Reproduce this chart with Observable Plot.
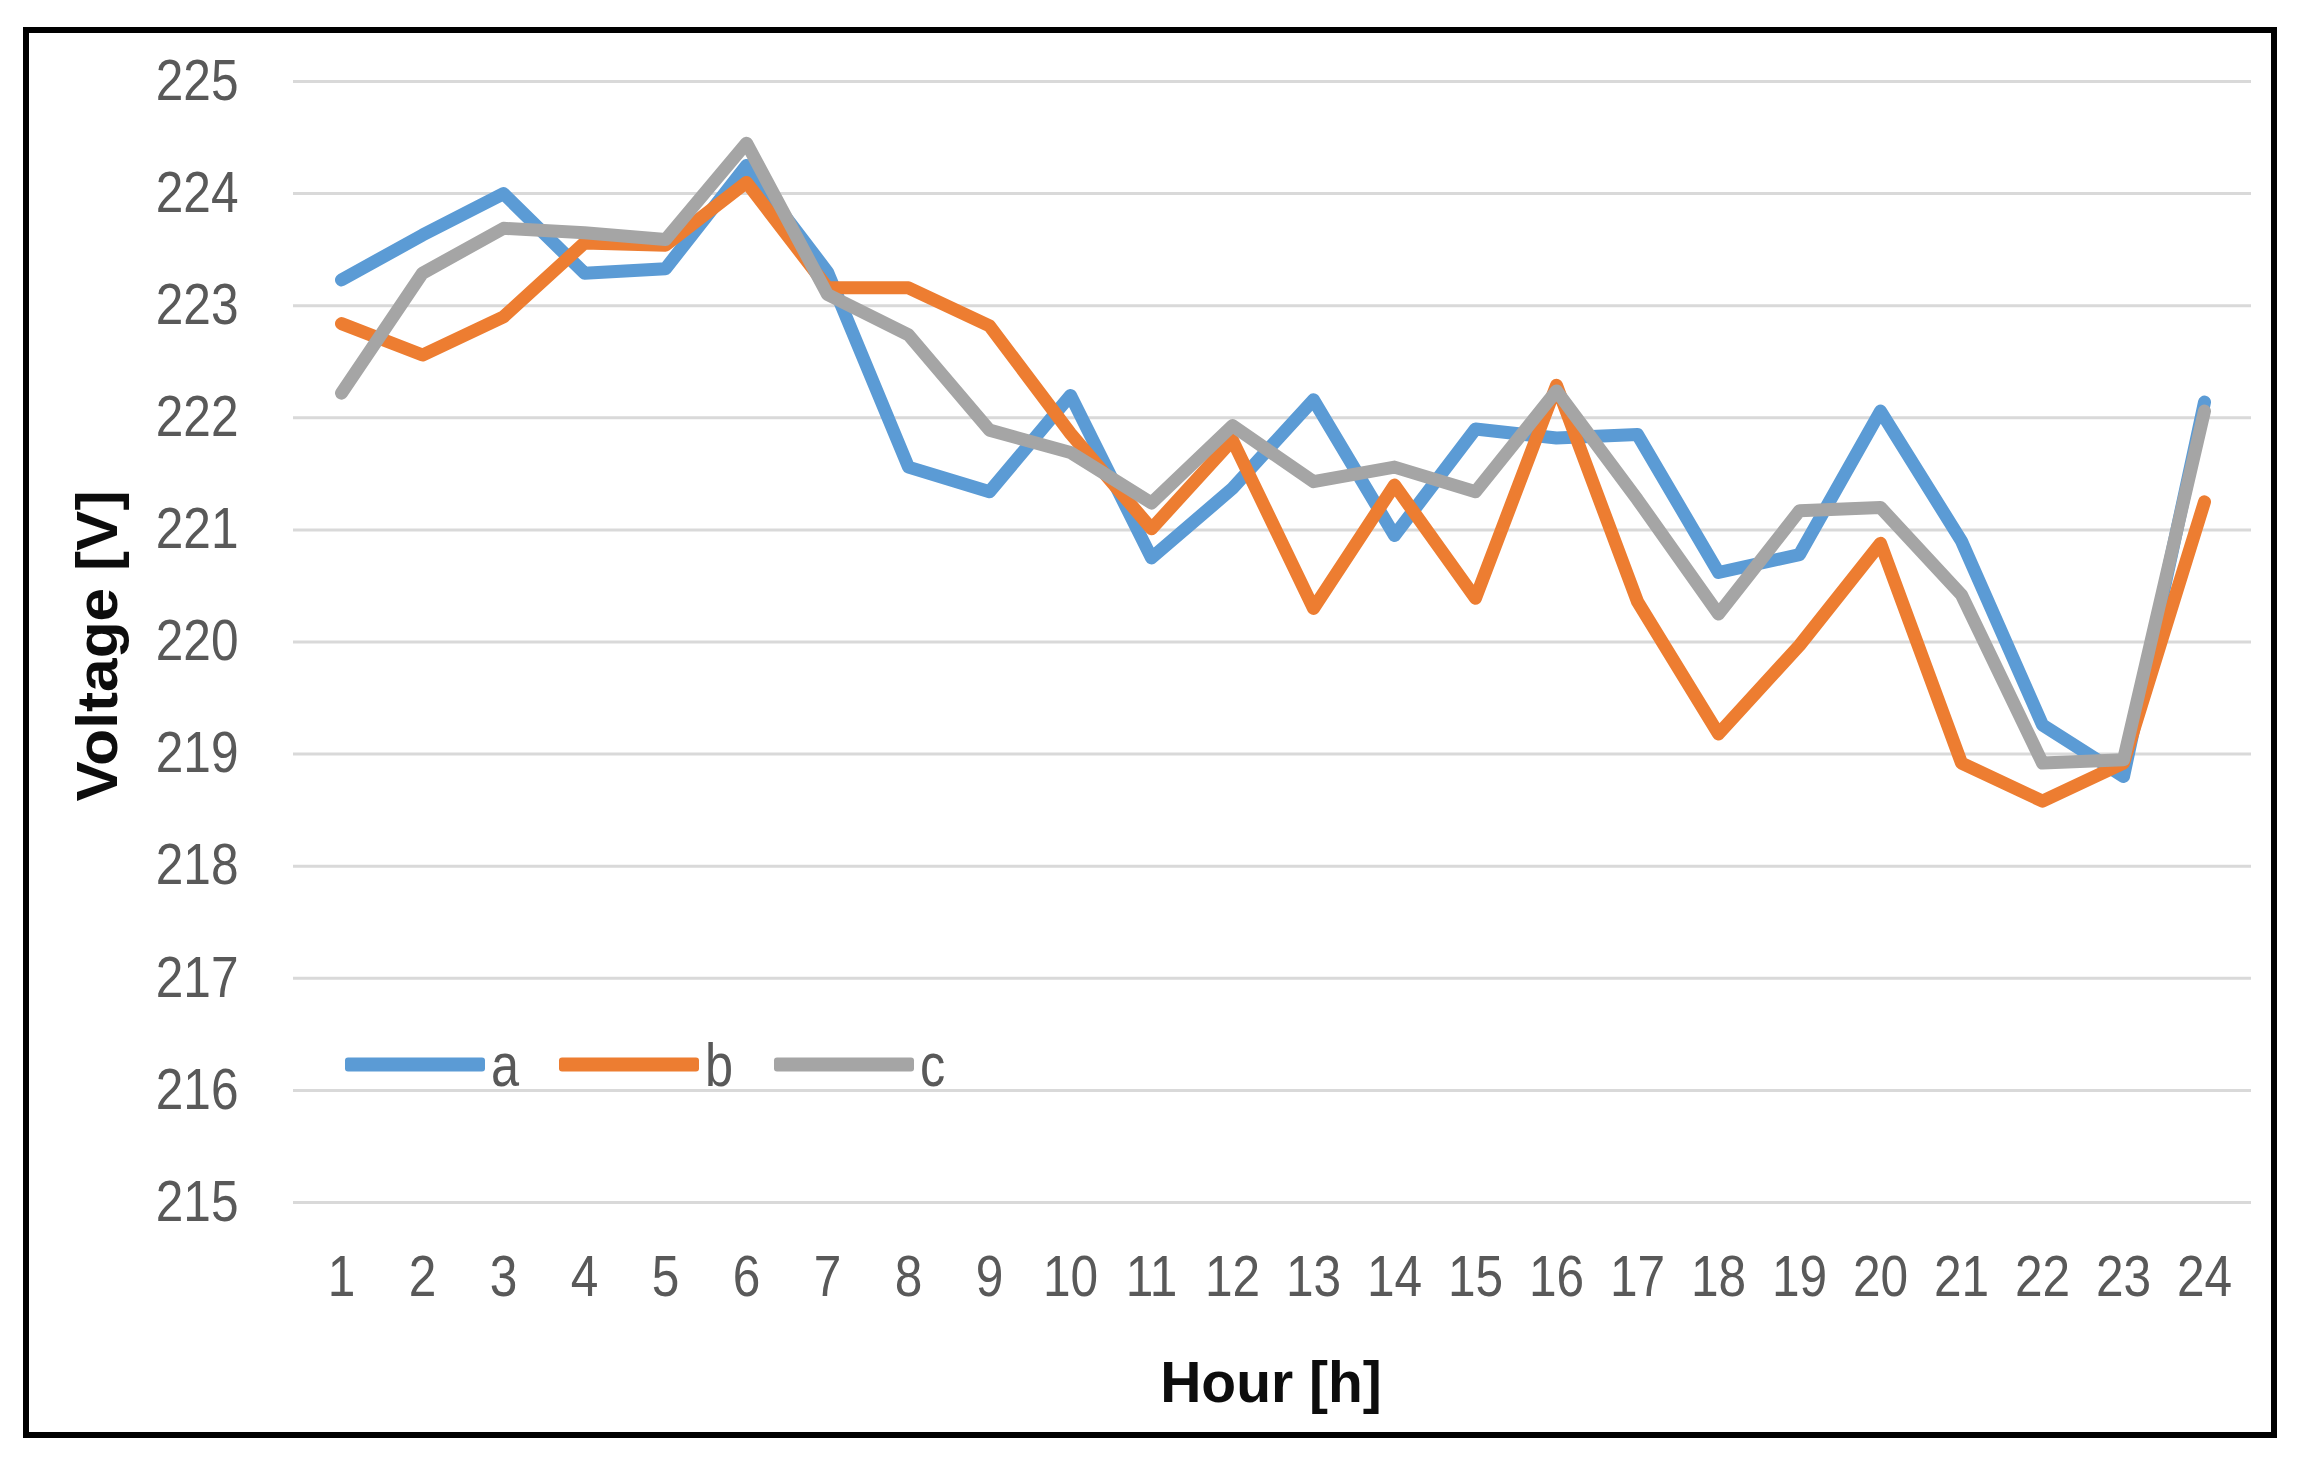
<!DOCTYPE html>
<html><head><meta charset="utf-8">
<script src="https://cdn.jsdelivr.net/npm/d3@7"></script>
<script src="https://cdn.jsdelivr.net/npm/@observablehq/plot@0.6"></script>
<style>
html,body{margin:0;padding:0;background:#fff;}
#wrap{position:relative;width:2298px;height:1464px;overflow:hidden;background:#fff;}
#frame{position:absolute;left:23px;top:27px;width:2242px;height:1399px;border:6px solid #000;pointer-events:none;}
.title{position:absolute;font-family:"Liberation Sans",Arial,sans-serif;font-weight:bold;font-size:57px;color:#0d0d0d;white-space:nowrap;}
#ytitle{left:97px;top:646px;transform:translate(-50%,-50%) rotate(-90deg) scale(1.06,1);}
#xtitle{left:1271px;top:1382px;transform:translate(-50%,-50%);}
#legend{position:absolute;left:345px;top:1064px;transform:translateY(-50%);display:flex;align-items:center;font-family:"Liberation Sans",Arial,sans-serif;font-size:58px;color:#595959;}
.item{display:flex;align-items:center;margin-right:36px;}
.swatch{width:140px;height:14px;border-radius:3px;margin-right:6px;}
.item span{display:inline-block;transform:scale(0.87,1.05);transform-origin:left center;}
</style></head>
<body>
<div id="wrap"><div id="chart"></div><div id="frame"></div>
<div id="ytitle" class="title"></div><div id="xtitle" class="title"></div><div id="legend"></div></div>
<script>
const hours = [1,2,3,4,5,6,7,8,9,10,11,12,13,14,15,16,17,18,19,20,21,22,23,24];
const seriesA = [223.23,223.63,224.0,223.29,223.33,224.25,223.3,221.56,221.34,222.2,220.75,221.37,222.16,220.95,221.9,221.82,221.85,220.62,220.78,222.06,220.9,219.26,218.8,222.14];
const seriesB = [222.84,222.56,222.9,223.56,223.54,224.1,223.16,223.16,222.82,221.86,221.01,221.8,220.3,221.4,220.39,222.29,220.36,219.18,219.97,220.88,218.92,218.58,218.92,221.25];
const seriesC = [222.22,223.29,223.69,223.65,223.59,224.45,223.1,222.74,221.89,221.69,221.24,221.93,221.43,221.56,221.34,222.24,221.27,220.25,221.17,221.2,220.42,218.92,218.95,222.06];
const seriesNames = ["a","b","c"];
const seriesColors = ["#5B9BD5","#ED7D31","#A5A5A5"];
const yTicks = [215,216,217,218,219,220,221,222,223,224,225];
const xTitle = "Hour [h]";
const yTitle = "Voltage [V]";

const allSeries = [seriesA, seriesB, seriesC];
const rows = (vals, name) => hours.map((h,i) => ({hour:h, v:vals[i], s:name}));

const plot = Plot.plot({
  width: 2298, height: 1464,
  marginLeft: 293, marginRight: 47, marginTop: 81, marginBottom: 262,
  style: {fontFamily: '"Liberation Sans",Arial,sans-serif', fontSize: "57px", color: "#595959", background: "transparent"},
  x: {type: "point", domain: hours, padding: 0.5},
  y: {domain: [215, 225]},
  marks: [
    Plot.ruleY(yTicks, {stroke: "#d9d9d9", strokeWidth: 3}),
    Plot.axisY({ticks: yTicks, tickSize: 0, tickPadding: 55, label: null, fill: "#595959"}),
    Plot.axisX({ticks: hours, tickSize: 0, tickPadding: 53, label: null, fill: "#595959"}),
    ...allSeries.map((vals, i) => Plot.line(rows(vals, seriesNames[i]), {
      x: "hour", y: "v", stroke: seriesColors[i], strokeWidth: 13, strokeLinejoin: "round", strokeLinecap: "round"
    }))
  ]
});
document.getElementById("chart").appendChild(plot);
// narrow the tick labels around their own anchor points (condensed look)
const sx = 0.87;
[["y-axis tick label", "end"], ["x-axis tick label", "middle"]].forEach(([lab, anchor]) => {
  plot.querySelectorAll(`g[aria-label="${lab}"] text`).forEach(t => {
    const b = t.getBBox();
    const ax = anchor === "end" ? b.x + b.width : b.x + b.width / 2;
    const tr = t.getAttribute("transform") || "";
    t.setAttribute("transform", `${tr} translate(${ax},0) scale(${sx},1) translate(${-ax},0)`.trim());
  });
});
document.getElementById("ytitle").textContent = yTitle;
document.getElementById("xtitle").textContent = xTitle;
const lg = document.getElementById("legend");
seriesNames.forEach((n,i) => {
  const it = document.createElement("div"); it.className = "item";
  const sw = document.createElement("div"); sw.className = "swatch"; sw.style.background = seriesColors[i];
  const t = document.createElement("span"); t.textContent = n;
  it.appendChild(sw); it.appendChild(t); lg.appendChild(it);
});
</script>
</body></html>
